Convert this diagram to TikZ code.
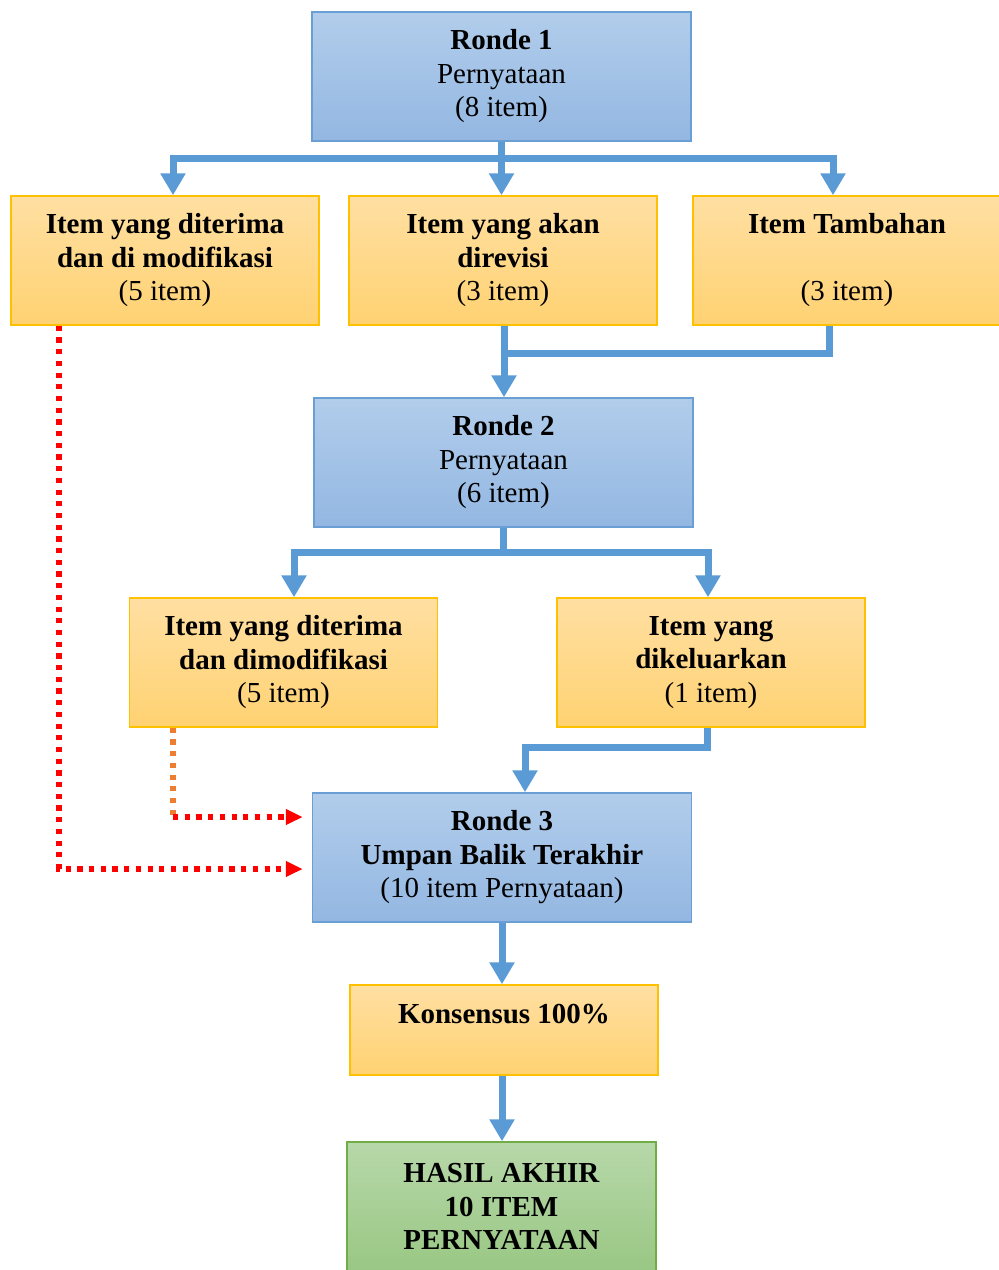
\documentclass[tikz,border=0pt]{standalone}
\usepackage{fontspec}
\setmainfont{Liberation Serif}
\usetikzlibrary{arrows.meta}
\definecolor{flowblue}{HTML}{5B9BD5}
\definecolor{blueedge}{HTML}{6A9FD6}
\definecolor{bluetop}{HTML}{B2CDEB}
\definecolor{bluebot}{HTML}{93B7E2}
\definecolor{orangeedge}{HTML}{FFC000}
\definecolor{orangetop}{HTML}{FFDFA2}
\definecolor{orangebot}{HTML}{FFD272}
\definecolor{greenedge}{HTML}{70AD47}
\definecolor{greentop}{HTML}{B7D8A9}
\definecolor{greenbot}{HTML}{99C784}
\definecolor{dotred}{HTML}{FF0000}
\definecolor{dotorange}{HTML}{ED7D31}
\begin{document}
\begin{tikzpicture}[x=0.5pt,y=-0.5pt,
  box/.style={draw, line width=0.75pt, align=center, inner sep=0pt,
    font=\fontsize{14.5}{16.75}\selectfont},
  bluebox/.style={box, draw=blueedge, top color=bluetop, bottom color=bluebot,
    minimum width=189.5pt, minimum height=64.5pt},
  orangebox/.style={box, draw=orangeedge, top color=orangetop, bottom color=orangebot,
    minimum width=154pt, minimum height=64.5pt},
  greenbox/.style={box, draw=greenedge, top color=greentop, bottom color=greenbot,
    minimum width=154.5pt, minimum height=64.5pt},
  pipe/.style={draw=flowblue, line width=3.5pt, line join=miter},
  flow/.style={pipe, -{Triangle[width=12pt,length=11pt]}},
  dotline/.style={line width=2.6pt, dash pattern=on 2.6pt off 3.25pt},
  reddot/.style={dotline, draw=dotred, -{Triangle[width=7.5pt,length=8.5pt]}},
  orangedot/.style={dotline, draw=dotorange}]

\clip (0,0) rectangle (999,1270);
\fill[white] (0,0) rectangle (999,1270);

% boxes
\node[bluebox] (r1) at (501.5,76.5) {\textbf{Ronde 1}\\Pernyataan\\(8 item)};
\node[orangebox] (a) at (165,260.5) {\textbf{Item yang diterima}\\\textbf{dan di modifikasi}\\(5 item)};
\node[orangebox] (b) at (503,260.5) {\textbf{Item yang akan}\\\textbf{direvisi}\\(3 item)};
\node[orangebox] (c) at (847,260.5) {\textbf{Item Tambahan}\\[16.75pt](3 item)};
\node[bluebox] (r2) at (503.5,462.5) {\textbf{Ronde 2}\\Pernyataan\\(6 item)};
\node[orangebox] (d) at (283.5,662.5) {\textbf{Item yang diterima}\\\textbf{dan dimodifikasi}\\(5 item)};
\node[orangebox] (e) at (711,662.5) {\textbf{Item yang}\\\textbf{dikeluarkan}\\(1 item)};
\node[bluebox] (r3) at (502,857.5) {\textbf{Ronde 3}\\\textbf{Umpan Balik Terakhir}\\(10 item Pernyataan)};
\node[orangebox, minimum height=45pt] (k) at (504,1030) {\textbf{Konsensus 100\%}\\[-6pt]\strut};
\node[greenbox] (h) at (501.5,1206.5) {\textbf{HASIL AKHIR}\\\textbf{10 ITEM}\\\textbf{PERNYATAAN}};

% round 1 branching
\coordinate (j1) at (501.5,158);
\coordinate (j1a) at (173,158);
\coordinate (j1c) at (833,158);
\draw[pipe] (r1.south) -- (j1);
\draw[pipe, line cap=rect] (j1a) -- (j1c);
\draw[flow] (j1a) -- (j1a |- a.north);
\draw[flow] (j1) -- (j1 |- b.north);
\draw[flow] (j1c) -- (j1c |- c.north);

% merge into round 2
\coordinate (j2) at (829,353);
\coordinate (j2b) at (504,353);
\draw[pipe] (j2 |- c.south) -- (j2) -- (j2b);
\draw[flow] (j2b |- b.south) -- (j2b |- r2.north);

% round 2 branching
\coordinate (j3) at (503.5,552);
\coordinate (j3d) at (294,552);
\coordinate (j3e) at (708,552);
\draw[pipe] (r2.south) -- (j3);
\draw[pipe, line cap=rect] (j3d) -- (j3e);
\draw[flow] (j3d) -- (j3d |- d.north);
\draw[flow] (j3e) -- (j3e |- e.north);

% removed item into round 3
\coordinate (j4) at (707.5,747);
\coordinate (j4b) at (525,747);
\draw[flow] (j4 |- e.south) -- (j4) -- (j4b) -- (j4b |- r3.north);

% round 3 to result
\draw[flow] (r3.south) -- (r3.south |- k.north);
\draw[flow] (r3.south |- k.south) -- (r3.south |- h.north);

% dotted feedback lines
\coordinate (ra) at (59,869);
\coordinate (rd) at (173,817);
\draw[reddot] (ra |- a.south) -- (ra) -- ([xshift=-4.5pt]ra -| r3.west);
\draw[orangedot] (rd |- d.south) -- (rd);
\draw[reddot] (rd) -- ([xshift=-4.5pt]rd -| r3.west);
\end{tikzpicture}
\end{document}
